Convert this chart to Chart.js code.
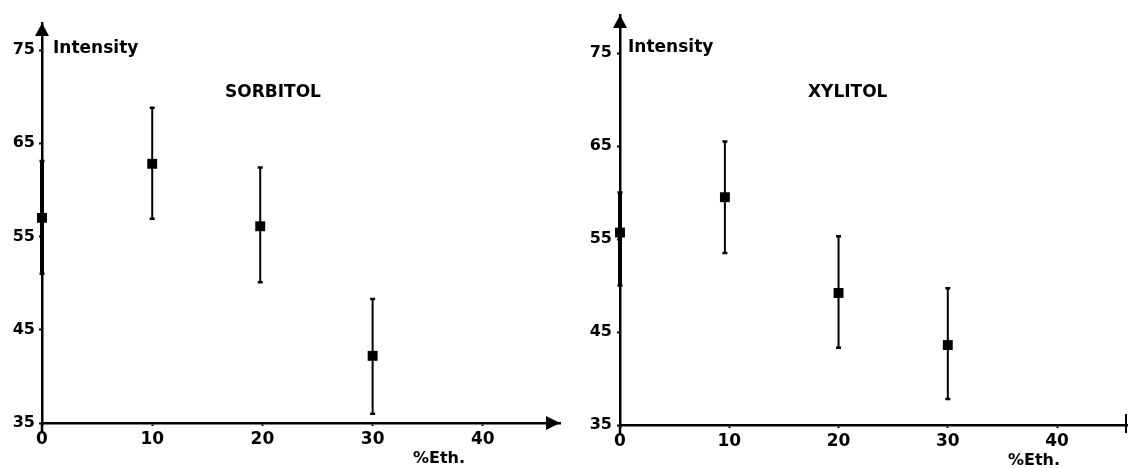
<!DOCTYPE html>
<html>
<head>
<meta charset="utf-8">
<script src="https://cdn.jsdelivr.net/npm/chart.js@4.4.1/dist/chart.umd.min.js"></script>
<style>
  body { margin: 0; background: #fff; }
  .box { position: absolute; top: 0; width: 567px; height: 468px; }
</style>
</head>
<body>
<div class="box" style="left:0"><canvas id="sorbitolChart" width="567" height="468"></canvas></div>
<div class="box" style="left:567px"><canvas id="xylitolChart" width="567" height="468"></canvas></div>
<script>
// axis ticks
const xTicks = [0, 10, 20, 30, 40];
const yTicks = [35, 45, 55, 65, 75];

// SORBITOL panel
const sorbitolX = [0, 10, 19.8, 30];
const sorbitolY = [57, 62.8, 56.1, 42.2];
const sorbitolLow = [51, 56.9, 50.1, 36];
const sorbitolHigh = [63.1, 68.8, 62.4, 48.3];

// XYLITOL panel
const xylitolX = [0, 9.6, 20, 30];
const xylitolY = [55.7, 59.5, 49.2, 43.6];
const xylitolLow = [50, 53.5, 43.3, 37.8];
const xylitolHigh = [60, 65.5, 55.3, 49.7];

const FONT = "'DejaVu Sans', sans-serif";

// error bars, arrows and loose texts
const decorPlugin = {
  id: 'decor',
  beforeDatasetsDraw(chart, args, opts) {
    const ctx = chart.ctx;
    const xs = chart.scales.x, ys = chart.scales.y;
    ctx.save();
    ctx.strokeStyle = '#000';
    opts.low.forEach((lo, i) => {
      const px = xs.getPixelForValue(opts.xVals[i]);
      const y1 = ys.getPixelForValue(opts.high[i]);
      const y2 = ys.getPixelForValue(lo);
      // bar sitting on the y axis looks thicker in the print
      ctx.lineWidth = opts.xVals[i] === 0 ? 4 : 2;
      ctx.beginPath();
      ctx.moveTo(px, y1);
      ctx.lineTo(px, y2);
      ctx.stroke();
      ctx.lineWidth = 2.5;
      ctx.beginPath();
      ctx.moveTo(px - 2.5, y1); ctx.lineTo(px + 2.5, y1);
      ctx.moveTo(px - 2.5, y2); ctx.lineTo(px + 2.5, y2);
      ctx.stroke();
    });
    ctx.restore();
  },
  afterDraw(chart, args, opts) {
    const ctx = chart.ctx;
    const a = chart.chartArea;
    ctx.save();
    ctx.fillStyle = '#000';
    ctx.strokeStyle = '#000';
    // y axis arrow
    ctx.beginPath();
    ctx.moveTo(a.left, a.top);
    ctx.lineTo(a.left - 7, a.top + 13);
    ctx.lineTo(a.left + 7, a.top + 13);
    ctx.closePath();
    ctx.fill();
    // y axis runs a bit below the x axis
    ctx.lineWidth = 2.5;
    ctx.beginPath();
    ctx.moveTo(a.left, a.bottom);
    ctx.lineTo(a.left, a.bottom + 10);
    ctx.stroke();
    if (opts.xArrow) {
      ctx.beginPath();
      ctx.moveTo(a.right, a.bottom);
      ctx.lineTo(a.right - 14, a.bottom - 7);
      ctx.lineTo(a.right - 14, a.bottom + 7);
      ctx.closePath();
      ctx.fill();
    } else {
      ctx.lineWidth = 2;
      ctx.beginPath();
      ctx.moveTo(a.right - 1, a.bottom - 11);
      ctx.lineTo(a.right - 1, a.bottom + 8);
      ctx.stroke();
    }
    ctx.font = 'bold 17px ' + FONT;
    ctx.textBaseline = 'middle';
    ctx.textAlign = 'left';
    ctx.fillText('Intensity', opts.yLabelPos[0], opts.yLabelPos[1]);
    ctx.fillText(opts.title, opts.titlePos[0], opts.titlePos[1]);
    ctx.font = 'bold 16px ' + FONT;
    ctx.fillText('%Eth.', opts.xLabelPos[0], opts.xLabelPos[1]);
    ctx.restore();
  }
};

function makeChart(id, xVals, yVals, low, high, cfg) {
  const ctx = document.getElementById(id).getContext('2d');
  return new Chart(ctx, {
    type: 'scatter',
    data: {
      datasets: [{
        data: xVals.map((x, i) => ({ x: x, y: yVals[i] })),
        clip: false,
        pointStyle: 'rect',
        pointRadius: 7,
        pointBackgroundColor: '#000',
        pointBorderWidth: 0
      }]
    },
    options: {
      responsive: false,
      animation: false,
      devicePixelRatio: 1,
      layout: { padding: { top: cfg.top, right: cfg.right, left: 0, bottom: 0 } },
      scales: {
        x: {
          type: 'linear',
          min: 0,
          max: cfg.xMax,
          afterBuildTicks: s => { s.ticks = xTicks.map(v => ({ value: v })); },
          afterFit: s => { s.height = cfg.xHeight; },
          grid: { drawOnChartArea: false, tickLength: 3, tickWidth: 2, tickColor: '#000' },
          border: { display: true, color: '#000', width: 2.5 },
          ticks: { color: '#000', padding: 3, font: { family: FONT, size: 17, weight: 'bold' } }
        },
        y: {
          type: 'linear',
          min: 35,
          max: cfg.yMax,
          afterBuildTicks: s => { s.ticks = yTicks.map(v => ({ value: v })); },
          afterFit: s => { s.width = cfg.yWidth; },
          grid: { drawOnChartArea: false, tickLength: 3, tickWidth: 2, tickColor: '#000' },
          border: { display: true, color: '#000', width: 2.5 },
          ticks: { color: '#000', padding: cfg.yPad, font: { family: FONT, size: 16, weight: 'bold' } }
        }
      },
      plugins: {
        legend: { display: false },
        tooltip: { enabled: false },
        decor: {
          xVals: xVals, low: low, high: high,
          title: cfg.title, titlePos: cfg.titlePos,
          yLabelPos: cfg.yLabelPos, xLabelPos: cfg.xLabelPos,
          xArrow: cfg.xArrow
        }
      }
    },
    plugins: [decorPlugin]
  });
}

makeChart('sorbitolChart', sorbitolX, sorbitolY, sorbitolLow, sorbitolHigh, {
  top: 23, right: 7, xMax: 47, yMax: 77.9, xHeight: 45, yWidth: 42, yPad: 4,
  title: 'SORBITOL', titlePos: [225, 93], yLabelPos: [53, 49], xLabelPos: [413, 459],
  xArrow: true
});

makeChart('xylitolChart', xylitolX, xylitolY, xylitolLow, xylitolHigh, {
  top: 15, right: 1, xMax: 46.4, yMax: 79.1, xHeight: 43, yWidth: 53, yPad: 5,
  title: 'XYLITOL', titlePos: [241, 93], yLabelPos: [61, 48], xLabelPos: [441, 461],
  xArrow: false
});
</script>
</body>
</html>
